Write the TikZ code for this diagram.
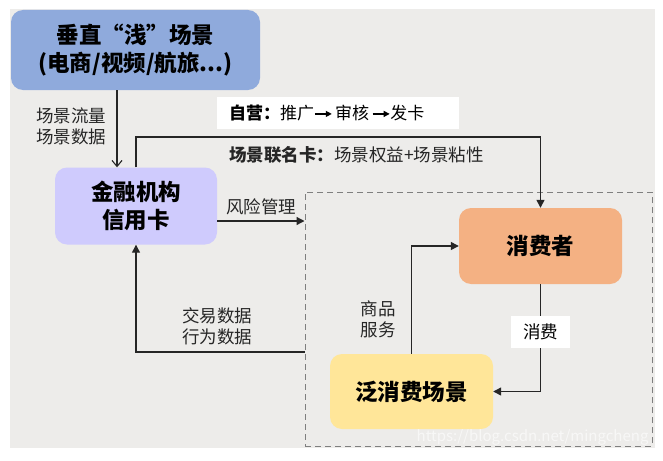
\documentclass[tikz,border=0pt]{standalone}
\usepackage{fontspec}
\setmainfont{Noto Sans CJK SC}
\usetikzlibrary{arrows.meta}
\definecolor{bgc}{HTML}{EDECEA}
\definecolor{topc}{HTML}{8FAADC}
\definecolor{finc}{HTML}{CFCBFD}
\definecolor{consc}{HTML}{F4B183}
\definecolor{scenec}{HTML}{FFE699}
\definecolor{dashc}{HTML}{7F7F7F}
\newcommand{\inarr}{\tikz[baseline=-0.6ex]\draw[line width=1.2pt,-{Triangle[length=6pt,width=6pt]}](0,0)--(17pt,0);}
\begin{document}
\begin{tikzpicture}[x=1pt,y=-1pt,
  box/.style={rounded corners=12pt,draw=none,align=center,font=\bfseries\fontsize{22.5}{28}\selectfont,inner sep=0pt},
  lbl/.style={font=\fontsize{17.5}{21}\selectfont,align=left,inner sep=0pt,text=black!85},
  conn/.style={line width=1.3pt,draw=black!85,-{Triangle[length=8pt,width=8pt]}},
  openconn/.style={line width=1.1pt,draw=black!85,-{Straight Barb[length=6pt,width=10pt]}}]
\useasboundingbox (0,0) rectangle (663,460);
\fill[bgc] (10,9) rectangle (655,448);
\node[draw=dashc,dashed,dash pattern=on 6pt off 4pt,line width=1pt,minimum width=347pt,minimum height=254pt,inner sep=0pt] (zone) at (478.5,319) {};
\node[box,fill=topc,minimum width=249pt,minimum height=80pt] (top) at (135.5,50) {垂直“浅”场景\\(电商/视频/航旅...)};
\node[box,fill=finc,minimum width=162pt,minimum height=77pt] (fin) at (136,206) {金融机构\\信用卡};
\node[box,fill=consc,minimum width=163pt,minimum height=76pt] (cons) at (540.5,246) {消费者};
\node[box,fill=scenec,minimum width=163pt,minimum height=75pt] (scene) at (411.5,391.5) {泛消费场景};
\node[fill=white,minimum width=242pt,minimum height=32pt,inner sep=0pt] (self) at (338,113) {};
\node[anchor=west,inner sep=0pt,font=\fontsize{17}{20}\selectfont] (selft) at (229,113) {\textbf{自营：}推广\inarr\,审核\,\inarr{}发卡};
% connectors
\draw[openconn] ([xshift=-18.5pt]top.south) -- ([xshift=-19pt]fin.north);
\node[lbl] (l1) at (71,126) {场景流量\\场景数据};
\draw[conn] (fin.north) -- (fin.north |- 0,137) -| (cons.north);
\node[lbl,anchor=west] (l2) at (229,155) {\textbf{场景联名卡：}场景权益+场景粘性};
\draw[conn] (fin.east |- 0,221) -- (zone.west |- 0,221);
\node[lbl] (l3) at (261,207) {风险管理};
\draw[conn] (zone.west |- 0,352) -| (fin.south);
\node[lbl] (l4) at (217,326) {交易数据\\行为数据};
\draw[conn] (scene.north) |- (cons.west);
\node[lbl] (l5) at (378,319) {商品\\服务};
\draw[conn] (cons.south) |- (scene.east);
\node[fill=white,minimum width=59pt,minimum height=32pt,inner sep=0pt,font=\fontsize{17.5}{21}\selectfont] (l6) at (540.5,332) {消费};
\node[text=white,opacity=0.6,font=\fontsize{15}{18}\selectfont,anchor=east] (wm) at (652,437) {https://blog.csdn.net/mingcheng};
\end{tikzpicture}
\end{document}
